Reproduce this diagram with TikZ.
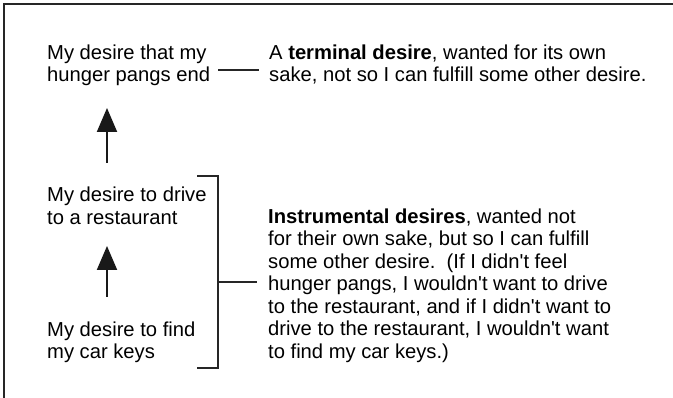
\documentclass[tikz,border=0pt]{standalone}
\usepackage{fontspec}
\setmainfont{Liberation Sans}[Ligatures=TeXOff]
\usetikzlibrary{arrows.meta}
\begin{document}
\begin{tikzpicture}[x=1pt,y=-1pt,
  % nodes are placed by the baseline of their last line
  txt/.style={anchor=base west,inner sep=0pt,align=left,
    font=\fontsize{20.2}{22.5}\selectfont},
  rule/.style={line width=2pt,draw=black!85},
  uparrow/.style={line width=2pt,draw=black!90,
    -{Triangle[width=20pt,length=24pt]}}]
  \useasboundingbox (0,0) rectangle (673,398);
  % frame (only top and left edges fall inside the page)
  \draw[line width=2.6pt,draw=black!85] (4,400) -- (4,4) -- (675,4);

  % the three desires
  \node[txt] (hunger) at (47,82) {My desire that my\\hunger pangs end};
  \node[txt] (drive)  at (47,224.2) {My desire to drive\\to a restaurant};
  \node[txt] (keys)   at (47,359) {My desire to find\\my car keys};

  % explanations
  \node[txt] (terminal) at (269,82)
    {A \textbf{terminal desire}, wanted for its own\\
     sake, not so I can fulfill some other desire.};
  \node[txt] (instr) at (268,358.3)
    {\textbf{Instrumental desires}, wanted not\\
     for their own sake, but so I can fulfill\\
     some other desire.\ \ (If I didn't feel\\
     hunger pangs, I wouldn't want to drive\\
     to the restaurant, and if I didn't want to\\
     drive to the restaurant, I wouldn't want\\
     to find my car keys.)};

  % arrows between the desires
  \coordinate (a1s) at (107,163);
  \coordinate (a1e) at (107,108);
  \coordinate (a2s) at (107,297);
  \coordinate (a2e) at (107,246);
  \draw[uparrow] (a1s) -- (a1e);
  \draw[uparrow] (a2s) -- (a2e);

  % short rule to the terminal-desire note
  \coordinate (t1) at (218,70);
  \coordinate (t2) at (259,70);
  \draw[rule] (t1) -- (t2);

  % bracket grouping the instrumental desires
  \coordinate (btop) at (197,176);
  \coordinate (bbot) at (197,368);
  \coordinate (bmid) at (218,282);
  \coordinate (bend) at (257,282);
  \draw[rule] (btop) -| (218,368) -- (bbot);
  \draw[rule] (bmid) -- (bend);
\end{tikzpicture}
\end{document}
